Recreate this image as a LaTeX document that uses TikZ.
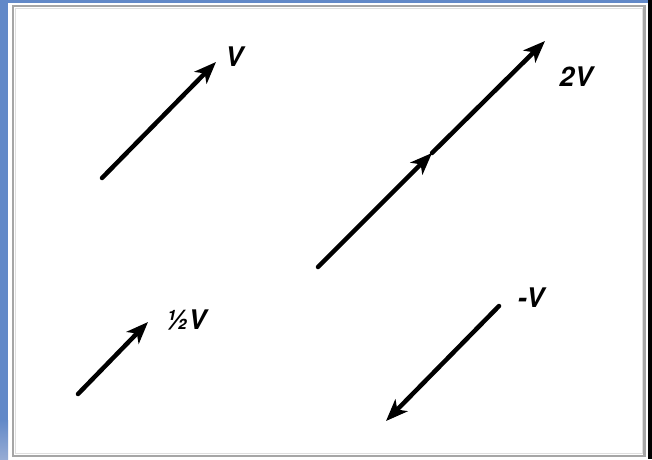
\documentclass[tikz,border=0pt]{standalone}
\usepackage{fontspec}
\usepackage{xcolor}
\usetikzlibrary{arrows.meta}
\newfontfamily\vecfont{TeX Gyre Heros}
\definecolor{FrameBlue}{RGB}{98,137,200}
\definecolor{FrameLight}{RGB}{150,172,212}

\begin{document}
\begin{tikzpicture}[x=1pt,y=-1pt,
		vec/.style={line width=4.5pt,line cap=round,-{Stealth[length=22pt,width=17pt,inset=6pt]}},
		veclabel/.style={font=\vecfont\fontsize{27}{27}\selectfont\bfseries\itshape,inner sep=0pt}]
		% 底色与边框
		\fill[white] (0,0) rectangle (652,459);
		\useasboundingbox (0,0) rectangle (652,459);
		\fill[FrameBlue] (0,0) rectangle (8,420);
		\shade[top color=FrameBlue,bottom color=FrameLight] (0,420) rectangle (8,459);
		\fill[FrameBlue] (0,0) rectangle (652,3);
		\fill[black] (648,0) rectangle (652,459);
		\draw[gray!70,line width=2.5pt] (13,6) rectangle (644.5,456);
		\draw[gray!25,line width=1pt] (15.5,8.5) rectangle (642,453.5);
		
		\coordinate (vA) at (102,178);
		\coordinate (vB) at (216,62);
		\coordinate (wA) at (318,267);
		\coordinate (wM) at (432,153);
		\coordinate (wB) at (545,41);
		\coordinate (hA) at (78,394);
		\coordinate (hB) at (148,322);
		\coordinate (nA) at (499,306);
		\coordinate (nB) at (386,421);
		
		% 向量 V
		\draw[vec] (vA) -- (vB);
		
		% 向量 2V（中点带箭头）
		\draw[vec] (wA) -- (wM);
		\draw[vec] (wM) -- (wB);
		
		% 向量 1/2 V
		\draw[vec] (hA) -- (hB);
		
		% 向量 -V
		\draw[vec] (nA) -- (nB);
		
		% 标注
		\node[veclabel] (labV) at (234,57) {V};
		\node[veclabel] (lab2V) at (576,77) {2V};
		\node[veclabel] (labHalf) at (186,320) {½V};
		\node[veclabel] (labNeg) at (531,298) {-V};
	\end{tikzpicture}
\end{document}
